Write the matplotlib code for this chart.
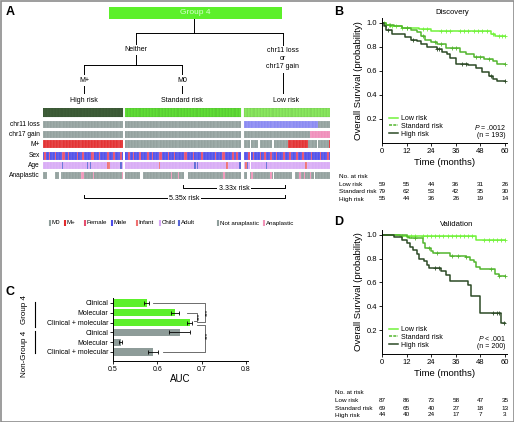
import matplotlib

matplotlib.use("Agg")

import matplotlib.pyplot as plt
import numpy as np
from matplotlib import font_manager
from matplotlib.lines import Line2D
from matplotlib.patches import Rectangle
from matplotlib.transforms import blended_transform_factory

W, H = 514, 422

_names = {f.name for f in font_manager.fontManager.ttflist}
SANS = "Liberation Sans" if "Liberation Sans" in _names else "DejaVu Sans"
NARROW = "Liberation Sans Narrow" if "Liberation Sans Narrow" in _names else SANS
plt.rcParams["font.family"] = [SANS, "DejaVu Sans"]
plt.rcParams["mathtext.fontset"] = "custom"
plt.rcParams["mathtext.it"] = f"{SANS}:italic"
plt.rcParams["mathtext.rm"] = SANS

# ---------------- data: panel A (one character per patient) ----------------
risk_groups = ["High risk", "Standard risk", "Low risk"]

chr11_high = "-----------" "-----------" "-----------" "-----------" "-----------"
chr17_high = "-----------" "-----------" "-----------" "-----------" "-----------"
mplus_high = "PPPPPPPPPPP" "PPPPPPPPPPP" "PPPPPPPPPPP" "PPPPPPPPPPP" "PPPPPPPPPPP"
sex_high = "MFMMFMMMFMM" "MMFFMMFMMMM" "MFMMMFMMMMM" "FFMMMFMMMMM" "FMMMFMMMMFM"
age_high = "CCCCCCCCCCC" "CCACCCCCCCC" "CCCCCCCCACA" "CCCCCCCCCCC" "IICCCCCCCAC"
anap_high = "NNN.....NNN" ".NNNNNNNNNN" "NNNNAANNNNN" "NANNNNNNNNN" "NNNNNNNNNNA"

chr11_std = "----------" "----------" "----------" "----------" "----------" "----------" "----------" "---------"
chr17_std = "----------" "----------" "----------" "----------" "----------" "----------" "----------" "---------"
mplus_std = "0000000000" "0000000000" "0000000000" "0000000000" "0000000000" "0000000000" "0000000000" "000000000"
sex_std = "MMFMMFMMMF" "FMMMMFMMFM" "MMMFFMMMMF" "MMMFMMMMMM" "FFMMMMFMMM" "MMFMMMMMMM" "MFMMMMFFMM" "MMMFMMFMM"
age_std = "CCCCCCCCCC" "CCCCCCCCCC" "CCCICCCCCC" "CCCCCCCCCC" "CCCCCCCACA" "CCCCCCCCCC" "CCCCCCCCCI" "CCCCCCCCA"
anap_std = "NNNNNNNNNN" "..NNNNNNNN" "NNNNNNNNNN" "NANNNNANNN" "...NNNNNNN" "NNNNNNNNNN" "NNNNNNNANN" "NNNNNNNNN"

chr11_low = "LLLLLLLLLL" "LLLLLLLLLL" "LLLLLLLLLL" "LLLLLLLLLL" "LLLLLLLLLL" "L--------"
chr17_low = "----------" "----------" "----------" "----------" "-----GGGGG" "GGGGGGGGG"
mplus_low = "0000.00000" ".00000000." ".000000000" "PPPPPPPPPP" "PPPP000000" ".0000000P"
sex_low = "MMMF.MFMMM" "MFMMFMMMFM" "MMFMMMMFMM" "MFMMMMFMMM" "FMMMMMFMMM" "MMFMMMMFM"
age_low = "CIAC.CCCCC" "CCCCCACCCC" "CCCCCCCCCC" "CCCCCCCCCC" "CCICCCCCCC" "CCCCCCCCC"
anap_low = "NN..NANNNN" "NNNNNNNNAN" ".NNNNNNNNN" "NNN..NNNAN" "NANNNANN.N" "NNNNNNNNN"

row_names = ["chr11 loss", "chr17 gain", "M+", "Sex", "Age", "Anaplastic"]

# ---------------- data: panel B / D (Kaplan-Meier) ----------------
b_low_t = [0, 2, 4, 10, 18, 24, 53, 55]
b_low_s = [1.0, 0.985, 0.97, 0.955, 0.945, 0.93, 0.91, 0.89]
b_low_cens = [1, 2, 3.5, 5, 7, 10, 12, 20, 22, 29, 31, 33, 38, 40, 42, 45, 47, 49, 51, 54, 57, 58.5, 60]
b_std_t = [0, 2, 6, 10, 14, 17, 19, 21, 24, 27, 31, 38, 41, 45, 50, 54, 56]
b_std_s = [1.0, 0.98, 0.97, 0.96, 0.94, 0.92, 0.89, 0.86, 0.84, 0.82, 0.79, 0.76, 0.74, 0.715, 0.70, 0.68, 0.66]
b_std_cens = [2, 4, 12, 20, 26, 29, 34, 36, 46, 48, 52, 60]
b_high_t = [0, 1, 2, 5, 11, 14, 17, 19, 22, 27, 29.5, 31.5, 33, 36, 42, 46, 49, 52, 54, 56]
b_high_s = [1.0, 0.97, 0.94, 0.91, 0.88, 0.86, 0.85, 0.82, 0.80, 0.78, 0.76, 0.74, 0.71, 0.66, 0.645, 0.62, 0.59, 0.56, 0.535, 0.52]
b_high_cens = [3, 15, 27, 28, 39, 41, 53, 60]

d_low_t = [0, 9, 46]
d_low_s = [1.0, 0.99, 0.96]
d_low_cens = [10, 12, 14, 16, 20, 22, 24, 26, 28, 30, 32, 34, 36, 38, 40, 42, 44, 50, 52, 54, 56, 58, 60]
d_std_t = [0, 12, 13, 20, 21, 24, 25, 33, 41, 43, 45, 46, 48, 55, 57]
d_std_s = [1.0, 0.98, 0.97, 0.93, 0.89, 0.86, 0.845, 0.82, 0.81, 0.79, 0.77, 0.73, 0.71, 0.67, 0.655]
d_std_cens = [16, 23, 27, 34, 37, 41, 53, 57, 60]
d_high_t = [0, 6, 10, 12, 13.5, 15, 17, 18, 20.5, 22, 23, 29, 31, 33, 42, 43.5, 48, 58]
d_high_s = [1.0, 0.98, 0.955, 0.93, 0.90, 0.87, 0.84, 0.80, 0.78, 0.75, 0.72, 0.70, 0.66, 0.61, 0.58, 0.49, 0.34, 0.26]
d_high_cens = [26, 28, 54, 56, 57, 59.5]

time_ticks = [0, 12, 24, 36, 48, 60]
b_at_risk_low = [59, 55, 44, 36, 31, 26]
b_at_risk_std = [79, 62, 53, 42, 35, 30]
b_at_risk_high = [55, 44, 36, 26, 19, 14]
d_at_risk_low = [87, 86, 73, 58, 47, 35]
d_at_risk_std = [69, 65, 40, 27, 18, 13]
d_at_risk_high = [44, 40, 24, 17, 7, 3]

# ---------------- data: panel C (AUC) ----------------
auc_labels = ["Clinical", "Molecular", "Clinical + molecular",
              "Clinical", "Molecular", "Clinical + molecular"]
auc_values = [0.576, 0.640, 0.673, 0.650, 0.517, 0.590]
auc_err = [0.005, 0.009, 0.005, 0.024, 0.003, 0.012]
auc_is_g4 = [True, True, True, False, False, False]

# ---------------- colours ----------------
GRAY = "#8f9e9b"
C_LOW, C_STD, C_HIGH = "#72f23a", "#52b52e", "#2c4a26"
RISK_BAR = {"High risk": "#40603a", "Standard risk": "#62e436", "Low risk": "#8ef062"}
CMAP = {
    "chr11": {"-": GRAY, "L": "#8686f2"},
    "chr17": {"-": GRAY, "G": "#f08ab8"},
    "mplus": {"0": GRAY, "P": "#e22a2c"},
    "sex": {"F": "#e64d6e", "M": "#4c4ce8"},
    "age": {"C": "#d8a9f6", "I": "#ef7070", "A": "#5866d4"},
    "anap": {"N": GRAY, "A": "#f293b8"},
}

fig = plt.figure(figsize=(W / 100, H / 100), dpi=100)


def px_rect(left, top, right, bottom):
    return [left / W, 1 - bottom / H, (right - left) / W, (bottom - top) / H]


# overlay in pixel coordinates for layout text and connector lines
ov = fig.add_axes([0, 0, 1, 1])
ov.set_xlim(0, W)
ov.set_ylim(H, 0)
ov.axis("off")
ov.add_patch(Rectangle((0.5, 0.5), W - 1, H - 1, fill=False, ec="#8c8c8c", lw=1.2))

for lab, x, y in (("A", 10, 12), ("B", 339, 12), ("C", 10, 292), ("D", 339, 222)):
    ov.text(x, y, lab, fontsize=9, fontweight="bold", ha="center", va="center")

# --- panel A tree ---
ov.add_patch(Rectangle((109, 7), 173, 12, color="#5cf02a", lw=0))
ov.text(195, 13, "Group 4", fontsize=6, color="#d9ffd0", ha="center", va="center")
tree = [((194, 194), (19, 33)), ((136, 283), (33, 33)), ((136, 136), (33, 44)),
        ((283, 283), (33, 45)), ((136, 136), (55, 65)), ((84, 182), (65, 65)),
        ((84, 84), (65, 74)), ((182, 182), (65, 74)), ((84, 84), (86, 93)),
        ((182, 182), (86, 93)), ((283, 283), (73, 93))]
for xs, ys in tree:
    ov.plot(xs, ys, color="black", lw=0.7)
for txt, x, y in (("Neither", 136, 49.5), ("M+", 84, 80), ("M0", 182, 80),
                  ("chr11 loss", 283, 50), ("or", 283, 58.5), ("chr17 gain", 283, 67),
                  ("High risk", 84, 101), ("Standard risk", 182, 101), ("Low risk", 286, 101)):
    ov.text(x, y, txt, fontsize=5, ha="center", va="center")

# --- panel A heatmap ---
groups = [
    [chr11_high, chr17_high, mplus_high, sex_high, age_high, anap_high],
    [chr11_std, chr17_std, mplus_std, sex_std, age_std, anap_std],
    [chr11_low, chr17_low, mplus_low, sex_low, age_low, anap_low],
]
row_keys = ["chr11", "chr17", "mplus", "sex", "age", "anap"]
row_spans = [(121, 128), (131, 138), (140, 148), (151.5, 159.5), (161.5, 169), (171.5, 179)]
risk_span = (108, 117)
gaps = [1.4, 2.0]

sizes = [len(g[0]) for g in groups]
starts = [0, sizes[0] + gaps[0], sizes[0] + gaps[0] + sizes[1] + gaps[1]]
total = starts[2] + sizes[2]

hm = fig.add_axes(px_rect(43, 108, 330, 179))
hm.set_xlim(0, total)
hm.set_ylim(179, 108)
hm.axis("off")
for gi, rows in enumerate(groups):
    x0 = starts[gi]
    n = sizes[gi]
    hm.bar(x0 + np.arange(n), risk_span[1] - risk_span[0], bottom=risk_span[0], width=1,
           align="edge", color=RISK_BAR[risk_groups[gi]],
           edgecolor=(0.1, 0.15, 0.1, 0.35), linewidth=0.15)
    for codes, key, (top, bot) in zip(rows, row_keys, row_spans):
        cmap = CMAP[key]
        xs = [x0 + i for i, c in enumerate(codes) if c in cmap]
        cols = [cmap[c] for c in codes if c in cmap]
        hm.bar(xs, bot - top, bottom=top, width=1, align="edge", color=cols,
               edgecolor=(1, 1, 1, 0.45), linewidth=0.15)

for name, (top, bot) in zip(row_names, row_spans):
    ov.text(40, (top + bot) / 2, name, fontsize=4.8, ha="right", va="center")

# risk ratio brackets
for (xa, xb, y, txt) in ((183, 285, 188, "3.33x risk"), (84, 285, 198, "5.35x risk")):
    ov.plot([xa, xa, xb, xb], [y - 3, y, y, y - 3], color="black", lw=0.7)
    ov.text((xa + xb) / 2, y, txt, fontsize=5, ha="center", va="center",
            bbox=dict(fc="white", ec="none", pad=1.0))

# legend of panel A
legend_a = [("M0", GRAY, 49.7), ("M+", CMAP["mplus"]["P"], 64.7), ("Female", CMAP["sex"]["F"], 84.7),
            ("Male", CMAP["sex"]["M"], 111.7), ("Infant", CMAP["age"]["I"], 136.7),
            ("Child", CMAP["age"]["C"], 160), ("Adult", CMAP["age"]["A"], 178.7),
            ("Not anaplastic", GRAY, 217.7), ("Anaplastic", CMAP["anap"]["A"], 264)]
for txt, col, x in legend_a:
    ov.plot([x, x], [220, 226], color=col, lw=1.5, solid_capstyle="butt")
    ov.text(x + 1.8, 223, txt, fontsize=4.4, ha="left", va="center")


# --- panels B / D ---
def step_value(t, s, c):
    return s[np.searchsorted(t, c, side="right") - 1]


def draw_km(rect, curves, title, title_xy, ptxt, ntxt, at_risk, table_y, label_x):
    ax = fig.add_axes(px_rect(*rect))
    for t, s, cens, col in curves:
        t = np.asarray(t, float)
        s = np.asarray(s, float)
        ax.step(np.append(t, 60), np.append(s, s[-1]), where="post", color=col, lw=1.1)
        cy = [step_value(t, s, c) for c in cens]
        ax.plot(cens, cy, ls="none", marker="+", ms=3.2, mew=0.6, color=col)
    ax.set_xlim(0, 61)
    ax.set_ylim(0, 1.04)
    ax.set_xticks(time_ticks)
    ax.set_yticks([0.2, 0.4, 0.6, 0.8, 1.0])
    ax.set_yticklabels(["0.2", "0.4", "0.6", "0.8", "1.0"])
    for sp in ("top", "right"):
        ax.spines[sp].set_visible(False)
    for sp in ("left", "bottom"):
        ax.spines[sp].set_linewidth(0.7)
    ax.tick_params(labelsize=5.5, length=2, width=0.6, pad=1.5)
    ax.set_ylabel("Overall Survival (probability)", fontsize=6.8, family=NARROW)
    ax.yaxis.set_label_coords(-0.155, 0.5)
    ax.set_xlabel("Time (months)", fontsize=6.8, family=NARROW)
    ax.xaxis.set_label_coords(0.5, -0.12)
    handles = [Line2D([], [], color=C_LOW, lw=1.1),
               Line2D([], [], color=C_STD, lw=1.1, ls=(0, (2, 0.8))),
               Line2D([], [], color=C_HIGH, lw=1.1)]
    ax.legend(handles, ["Low risk", "Standard risk", "High risk"], loc="lower left",
              bbox_to_anchor=(0.03, 0.02), fontsize=5, handlelength=1.3, handletextpad=0.5,
              labelspacing=0.12, frameon=False, borderaxespad=0)
    ax.text(0.99, 0.125, ptxt, transform=ax.transAxes, fontsize=5, ha="right", va="center")
    ax.text(0.99, 0.06, ntxt, transform=ax.transAxes, fontsize=5, ha="right", va="center")
    ov.text(title_xy[0], title_xy[1], title, fontsize=5.5, ha="center", va="center")

    tr = blended_transform_factory(ax.transData, ov.transData)
    ov.text(label_x, table_y[0], "No. at risk", fontsize=4.6, ha="left", va="center")
    for name, counts, y in zip(["Low risk", "Standard risk", "High risk"], at_risk, table_y[1:]):
        ov.text(label_x, y, name, fontsize=4.6, ha="left", va="center")
        for tt, c in zip(time_ticks, counts):
            fig.text(tt, y, str(c), transform=tr, fontsize=4.6, ha="center", va="center")
    return ax


draw_km((382, 18, 507, 143),
        [(b_low_t, b_low_s, b_low_cens, C_LOW), (b_std_t, b_std_s, b_std_cens, C_STD),
         (b_high_t, b_high_s, b_high_cens, C_HIGH)],
        "Discovery", (452, 12), r"$\it{P}$ = .0012", "(n = 193)",
        [b_at_risk_low, b_at_risk_std, b_at_risk_high], (177, 184, 191.5, 199), 339)

draw_km((382, 230, 507, 354),
        [(d_low_t, d_low_s, d_low_cens, C_LOW), (d_std_t, d_std_s, d_std_cens, C_STD),
         (d_high_t, d_high_s, d_high_cens, C_HIGH)],
        "Validation", (457, 225), r"$\it{P}$ < .001", "(n = 200)",
        [d_at_risk_low, d_at_risk_std, d_at_risk_high], (393, 401, 408, 415), 335)

# --- panel C ---
axc = fig.add_axes(px_rect(113, 298, 248, 361))
ypos = np.arange(len(auc_values))
axc.barh(ypos, auc_values, height=0.72, color=["#5cf02a" if g else "#8e9c99" for g in auc_is_g4],
         xerr=auc_err, error_kw=dict(elinewidth=0.6, capsize=1.2, capthick=0.6, ecolor="black"))
axc.set_xlim(0.5, 0.8045)
axc.set_ylim(5.92, -0.51)
axc.set_yticks(ypos)
axc.set_yticklabels(auc_labels)
axc.set_xticks([0.5, 0.6, 0.7, 0.8])
axc.set_xticklabels(["0.5", "0.6", "0.7", "0.8"])
for sp in ("top", "right"):
    axc.spines[sp].set_visible(False)
for sp in ("left", "bottom"):
    axc.spines[sp].set_linewidth(0.7)
axc.tick_params(labelsize=5, length=2, width=0.6, pad=1.5)
axc.set_xlabel("AUC", fontsize=7, family=NARROW)
axc.xaxis.set_label_coords(0.5, -0.2)

# significance brackets: (y1, x1, y2, x2, xv, star_y)
sig = [(0, 0.591, 1.94, 0.690, 0.7075, 0.95), (1, 0.666, 1.8, 0.683, 0.690, 1.4),
       (2.2, 0.690, 5, 0.613, 0.7075, 3.3)]
for y1, x1, y2, x2, xv, sy in sig:
    axc.plot([x1, xv, xv, x2], [y1, y1, y2, y2], color="#555555", lw=0.6, clip_on=False)
    axc.text(xv + 0.006, sy, "***", rotation=90, fontsize=4.5, ha="center", va="center",
             clip_on=False)

ov.plot([35, 35], [302, 327], color="black", lw=0.8)
ov.plot([35, 35], [331, 353], color="black", lw=0.8)
ov.text(25, 310, "Group 4", rotation=90, fontsize=5.8, family=NARROW, ha="center", va="center")
ov.text(25, 354, "Non-Group 4", rotation=90, fontsize=5.8, family=NARROW, ha="center", va="center")

fig.savefig("out.png", dpi=100)
